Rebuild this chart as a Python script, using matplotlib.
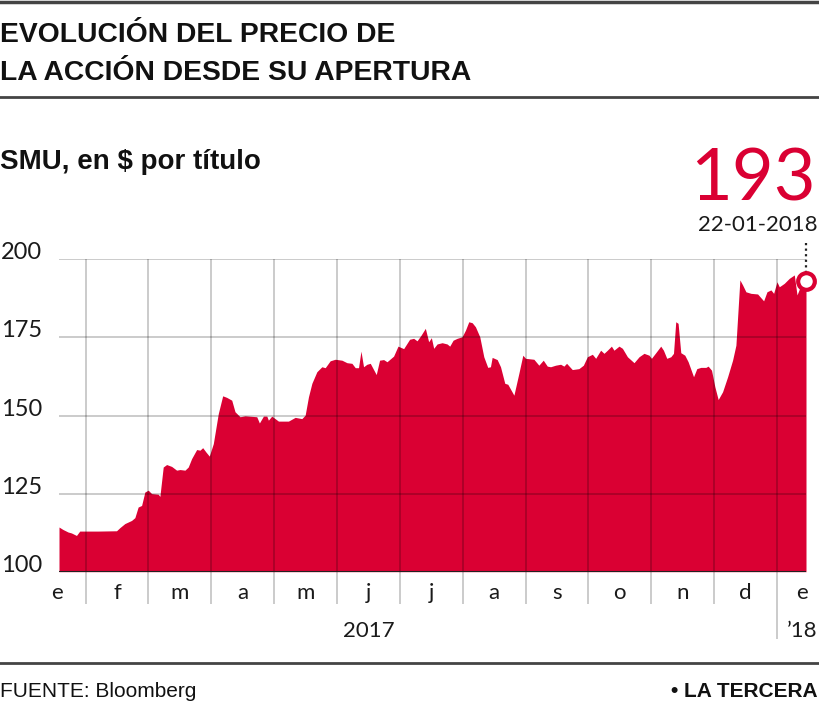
"""Evolución del precio de la acción de SMU (La Tercera)."""

import matplotlib
matplotlib.use("Agg")
import matplotlib.pyplot as plt
from matplotlib.lines import Line2D

# posición en meses desde el 1-ene-2017 y precio de cierre ($ por título)
meses = [
    0.578, 0.642, 0.722, 0.776, 0.856, 0.908, 1.2, 1.493, 1.546, 1.625,
    1.732, 1.785, 1.837, 1.892, 1.944, 1.997, 2.051, 2.156, 2.183, 2.236,
    2.290, 2.370, 2.449, 2.502, 2.582, 2.634, 2.688, 2.768, 2.821, 2.864,
    2.916, 2.969, 3.033, 3.112, 3.182, 3.246, 3.326, 3.378, 3.458, 3.538,
    3.724, 3.766, 3.830, 3.884, 3.909, 3.963, 4.016, 4.069, 4.228, 4.335,
    4.441, 4.494, 4.547, 4.601, 4.680, 4.760, 4.813, 4.892, 4.972, 5.079,
    5.159, 5.238, 5.291, 5.343, 5.382, 5.423, 5.477, 5.530, 5.625, 5.678,
    5.742, 5.796, 5.901, 5.971, 6.061, 6.156, 6.220, 6.274, 6.338, 6.406,
    6.459, 6.502, 6.539, 6.593, 6.673, 6.752, 6.794, 6.848, 6.912, 6.991,
    7.044, 7.097, 7.151, 7.203, 7.272, 7.336, 7.399, 7.442, 7.469, 7.549,
    7.602, 7.670, 7.718, 7.815, 7.894, 7.957, 8.000, 8.133, 8.212, 8.282,
    8.346, 8.398, 8.478, 8.558, 8.610, 8.653, 8.744, 8.849, 8.920, 8.983,
    9.063, 9.116, 9.195, 9.248, 9.302, 9.366, 9.407, 9.487, 9.541, 9.621,
    9.726, 9.806, 9.885, 9.965, 10.003, 10.072, 10.151, 10.194, 10.247, 10.311,
    10.354, 10.390, 10.427, 10.470, 10.534, 10.587, 10.673, 10.725, 10.789, 10.869,
    10.905, 10.959, 11.012, 11.065, 11.135, 11.215, 11.294, 11.347, 11.410, 11.453,
    11.506, 11.586, 11.692, 11.788, 11.841, 11.904, 11.947, 12.000, 12.037, 12.116,
    12.196, 12.276, 12.319, 12.371, 12.462,
]
precios = [
    114.3, 113.5, 112.7, 112.4, 111.6, 113.0, 113.0, 113.1, 114.1, 115.4,
    116.4, 117.3, 120.7, 121.2, 125.5, 126.1, 125.0, 124.8, 124.1, 133.5,
    134.3, 133.7, 132.5, 132.7, 132.5, 133.5, 136.2, 139.1, 138.9, 139.7,
    138.3, 137.0, 141.0, 150.6, 156.3, 155.8, 154.9, 151.2, 149.6, 149.9,
    149.6, 147.6, 149.8, 149.8, 148.5, 149.8, 149.0, 148.2, 148.2, 149.4,
    149.0, 150.1, 156.0, 160.3, 164.0, 165.6, 165.3, 167.5, 168.0, 167.7,
    166.9, 166.7, 165.3, 165.3, 170.6, 165.6, 166.4, 166.7, 163.1, 167.7,
    167.9, 167.2, 169.0, 172.2, 171.4, 174.4, 174.7, 173.9, 175.7, 177.9,
    173.6, 174.9, 171.5, 172.9, 173.3, 172.9, 172.2, 174.1, 174.7, 175.2,
    177.3, 180.0, 179.7, 178.4, 175.2, 168.8, 165.4, 165.6, 168.6, 167.9,
    165.6, 160.3, 160.0, 156.5, 163.5, 169.3, 168.3, 168.0, 166.1, 167.7,
    165.8, 165.6, 166.1, 166.4, 165.8, 166.7, 164.7, 165.0, 166.1, 168.8,
    169.6, 168.3, 170.9, 169.9, 170.9, 172.2, 170.9, 172.2, 171.5, 168.8,
    166.9, 168.8, 169.9, 169.3, 168.3, 170.1, 172.2, 170.9, 168.3, 168.8,
    169.9, 180.0, 179.5, 170.1, 169.3, 167.2, 162.4, 165.0, 165.4, 165.4,
    165.8, 164.5, 159.2, 155.1, 157.6, 162.4, 167.7, 172.5, 193.4, 191.8,
    189.6, 189.1, 188.9, 186.7, 189.6, 190.2, 189.1, 192.8, 191.2, 192.3,
    193.9, 195.0, 188.6, 191.2, 193.0,
]

etiquetas_mes = ["e", "f", "m", "a", "m", "j", "j", "a", "s", "o", "n", "d", "e"]
pos_etiquetas = [0.55, 1.5, 2.5, 3.5, 4.5, 5.5, 6.5, 7.5, 8.5, 9.5, 10.5, 11.5, 12.4]
limites_mes = list(range(1, 13))
y_ticks = [100, 125, 150, 175, 200]
ultimo_valor = 193
ultima_fecha = "22-01-2018"

ROJO = "#da0033"
GRIS = (0, 0, 0, 0.22)
TEXTO = "#1a1a1a"
FUENTE = ["Liberation Sans", "DejaVu Sans"]
LIGERA = ["Lato", "DejaVu Sans"]

W, H = 820, 703
fig = plt.figure(figsize=(W / 100, H / 100), dpi=100)


def fx(px):
    return px / W


def fy(py):
    return 1 - py / H


ax = fig.add_axes([fx(59), fy(571.7), fx(806) - fx(59), fy(259.3) - fy(571.7)])
ax.set_xlim(meses[0], meses[-1])
ax.set_ylim(100, 200)
ax.axis("off")

ax.fill_between(meses, precios, 100, color=ROJO, linewidth=0, zorder=1)

# cuadrícula encima del área
for y in y_ticks[1:]:
    ax.axhline(y, color=GRIS, linewidth=1.3, zorder=2)
for x in limites_mes:
    ax.vlines(x, 78.5 if x == 12 else 89.8, 200, color=GRIS, linewidth=1.3,
              zorder=2, clip_on=False)
ax.axhline(100, color="#222222", linewidth=2.2, zorder=3)

# etiquetas del eje y
for y in y_ticks:
    ax.text(-0.0775, y, str(y), transform=ax.get_yaxis_transform(),
            ha="left", va="baseline", fontsize=17, family=LIGERA, color=TEXTO)

# etiquetas de meses y años
xt = ax.get_xaxis_transform()
for x, lab in zip(pos_etiquetas, etiquetas_mes):
    ax.text(x, -0.068, lab, transform=xt, ha="center", va="center",
            fontsize=16, family=LIGERA, color=TEXTO)
ax.text(5.5, -0.19, "2017", transform=xt, ha="center", va="center",
        fontsize=16, family=LIGERA, color=TEXTO)
ax.text(12.4, -0.19, "\u201918", transform=xt, ha="center", va="center",
        fontsize=16, family=LIGERA, color=TEXTO)

# último valor
ax.plot([meses[-1], meses[-1]], [195.5, 206.2], color="#222222", linewidth=1.6,
        linestyle=(0, (1, 1.5)), zorder=4, clip_on=False)
ax.plot(meses[-1], ultimo_valor, marker="o", markersize=12, markerfacecolor="white",
        markeredgecolor=ROJO, markeredgewidth=3, zorder=5, clip_on=False)

fig.text(fx(816), fy(200), str(ultimo_valor), ha="right", va="baseline",
         fontsize=52, family=LIGERA, color=ROJO)
fig.text(fx(818), fy(231), ultima_fecha, ha="right", va="baseline",
         fontsize=16, family=LIGERA, color=TEXTO)

# títulos
fig.text(0, fy(42), "EVOLUCIÓN DEL PRECIO DE", ha="left", va="baseline",
         fontsize=20.3, family=FUENTE, weight="bold", color="#111111")
fig.text(0, fy(80), "LA ACCIÓN DESDE SU APERTURA", ha="left", va="baseline",
         fontsize=20.3, family=FUENTE, weight="bold", color="#111111")
fig.text(0, fy(169), "SMU, en $ por título", ha="left", va="baseline",
         fontsize=20, family=FUENTE, weight="bold", color="#111111")

# pie
fig.text(0, fy(697), "FUENTE: Bloomberg", ha="left", va="baseline",
         fontsize=15, family=FUENTE, color="#111111")
fig.text(fx(818), fy(697), "• LA TERCERA", ha="right", va="baseline",
         fontsize=15, family=FUENTE, weight="bold", color="#111111")

for py, lw in [(1.5, 2.5), (97, 2), (663, 2)]:
    fig.add_artist(Line2D([0, 1], [fy(py), fy(py)], color="#444444", linewidth=lw))

fig.savefig("out.png", dpi=100)
